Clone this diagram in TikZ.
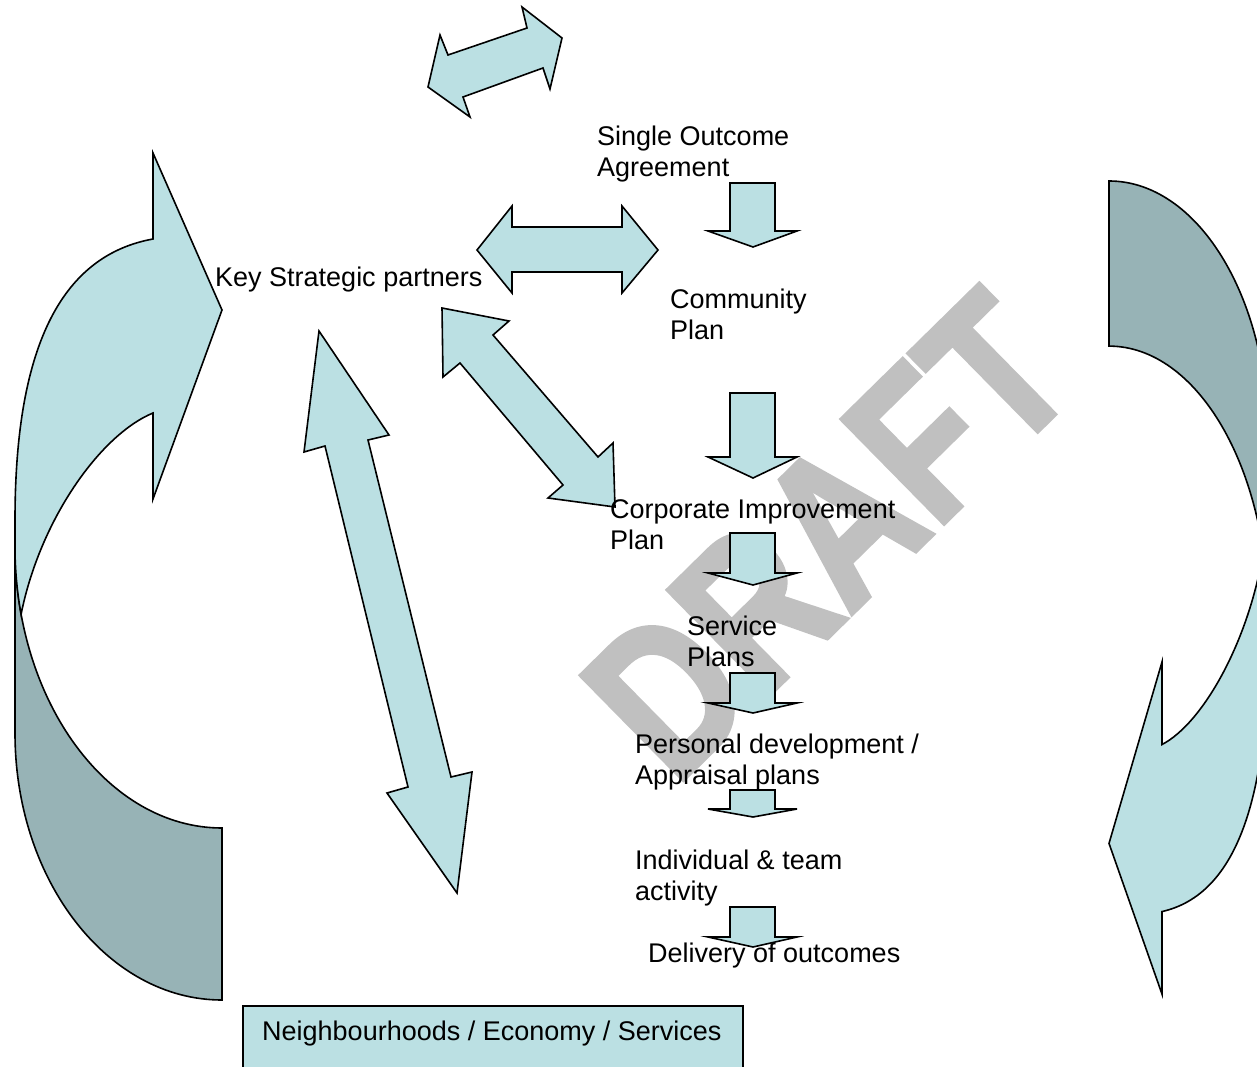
\documentclass[tikz,border=0pt]{standalone}
\usepackage{fontspec}
\setmainfont{Liberation Sans}
\newfontfamily\wmfont[FakeBold=2.5]{Liberation Sans Bold}
\definecolor{lightb}{RGB}{187,224,227}
\definecolor{darkb}{RGB}{151,179,182}
\definecolor{wmgray}{RGB}{192,192,192}
\tikzset{
  blk/.style={fill=lightb, draw=black, line width=1.6pt, line join=miter},
  backpart/.style={fill=darkb, draw=black, line width=1.6pt},
  lbl/.style={font=\fontsize{27}{31}\selectfont, inner sep=0pt, align=left, anchor=base west},
}
\newcommand\dnarrow[3]{\draw[blk] (730,#1) -- (775,#1) -- (775,#2) -- (797,#2) -- (753,#3) -- (708,#2) -- (730,#2) -- cycle;}
\newcommand\curvearrow{%
  \draw[backpart] (15,546) -- (15,733) arc[start angle=180, end angle=90, x radius=207, y radius=267]
     -- (222,828) arc[start angle=90, end angle=180, x radius=207, y radius=282] -- cycle;
  \draw[blk] (21.1,614.2) arc[start angle=166, end angle=180, x radius=207, y radius=282]
     -- (15,520) .. controls (15,340) and (65,255) .. (153,239) -- (153,153) -- (222,310)
     -- (153,499) -- (153,413) .. controls (100,435) and (40,520) .. (21.1,614.2) -- cycle;
}
\begin{document}
\begin{tikzpicture}[x=1pt, y=-1pt]
\useasboundingbox (0,0) rectangle (1257,1067);
\clip (0,0) rectangle (1257,1067);
% watermark
\node[font=\wmfont\fontsize{211}{211}\selectfont, text=wmgray, inner sep=0pt, rotate=44.5, xscale=0.8] (draft) at (828,535) {DRAFT};
% curved arrows
\curvearrow
\begin{scope}[shift={(1279.5,1141)}, xscale=-0.768, yscale=-0.96]
\curvearrow
\end{scope}
% top tilted double arrow
\draw[blk] (428,87) -- (440,35) -- (448,55) -- (527,28) -- (522,7) -- (562,38) -- (550,89) -- (543,68) -- (463,97) -- (470,117) -- cycle;
% horizontal double arrow
\draw[blk] (477,250) -- (512,206) -- (512,227) -- (622,227) -- (622,206) -- (658,250) -- (622,293) -- (622,272) -- (512,272) -- (512,293) -- cycle;
% diagonal double arrow
\draw[blk] (442,308) -- (509,321) -- (493,335) -- (598,457) -- (613,443) -- (615,507) -- (548,498) -- (563,485) -- (460,363) -- (443,377) -- cycle;
% long double arrow
\draw[blk] (319,331) -- (389,435) -- (368,440) -- (451,777) -- (472,772) -- (457,893) -- (387,793) -- (408,787) -- (325,446) -- (304,452) -- cycle;
% down arrows
\dnarrow{183}{231}{247}
\dnarrow{393}{457}{478}
\dnarrow{533}{573}{585}
\dnarrow{673}{703}{713}
\dnarrow{790}{809}{817}
\dnarrow{907}{937}{947}
% bottom box
\draw[blk] (243,1006) rectangle (743,1090);
% labels (multi-line nodes are placed at the baseline of their last line)
\node[lbl] (soa) at (597,177) {Single Outcome\\Agreement};
\node[lbl] (ksp) at (215,286) {Key Strategic partners};
\node[lbl] (cp) at (670,339) {Community\\Plan};
\node[lbl] (cip) at (610,549) {Corporate Improvement\\Plan};
\node[lbl] (sp) at (687,666) {Service\\Plans};
\node[lbl] (pd) at (635,784) {Personal development /\\Appraisal plans};
\node[lbl] (it) at (635,900) {Individual \& team\\activity};
\node[lbl] (dlv) at (648,962) {Delivery of outcomes};
\node[lbl] (nes) at (262,1040) {Neighbourhoods / Economy / Services};
\end{tikzpicture}
\end{document}
